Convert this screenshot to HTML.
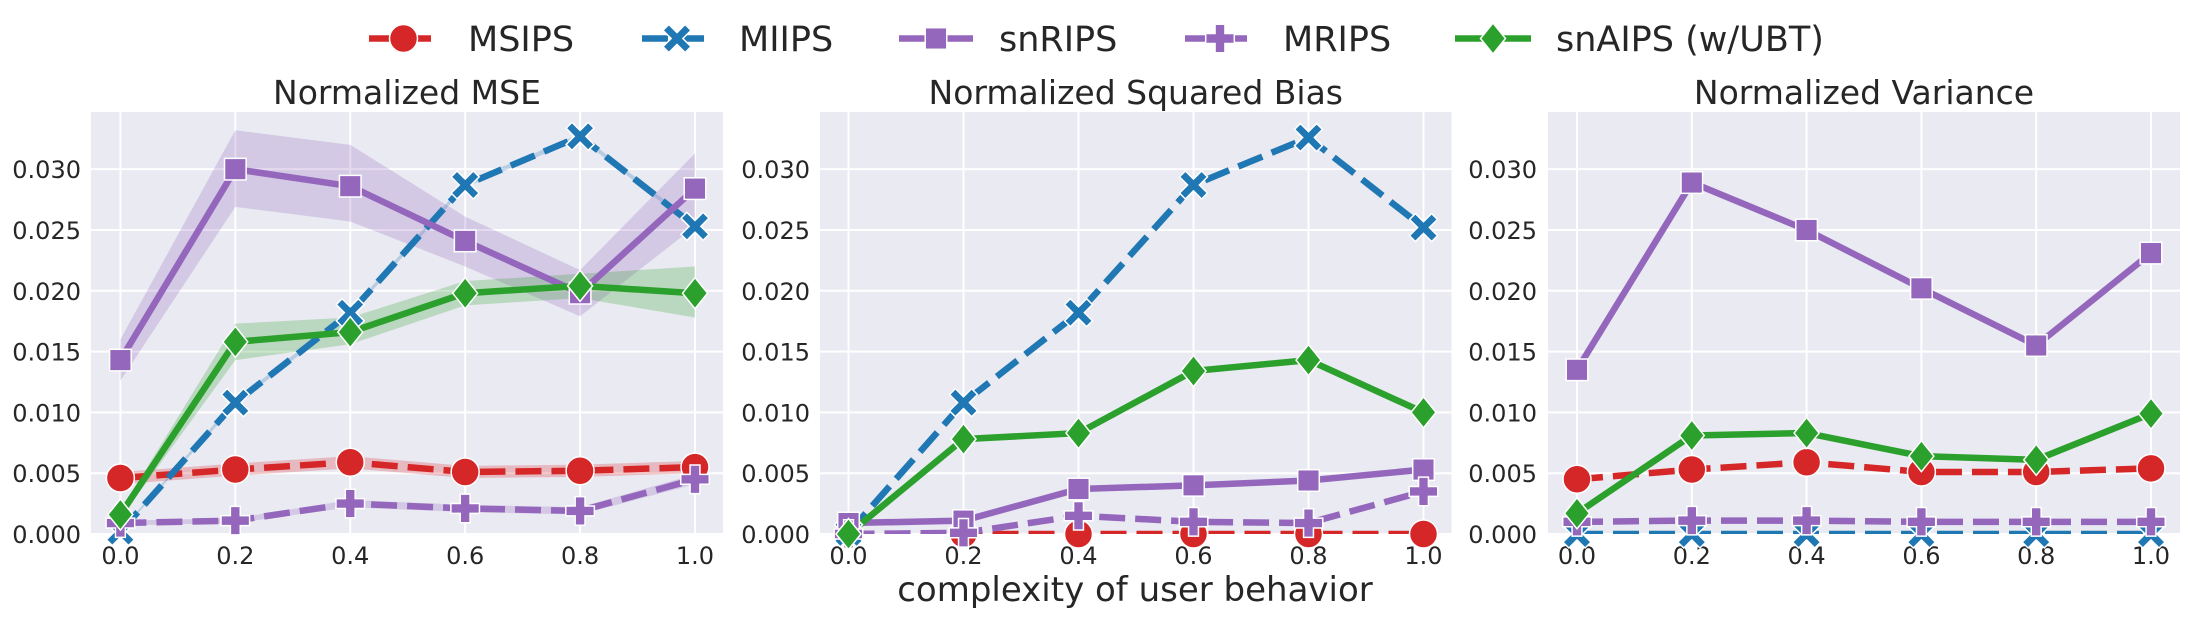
<!DOCTYPE html>
<html><head><meta charset="utf-8"><style>
html,body{margin:0;padding:0;background:#fff;}
svg{display:block;font-family:"DejaVu Sans","Liberation Sans",sans-serif;}
</style></head><body>
<svg id="chart" width="2190" height="617" viewBox="0 0 2190 617" xmlns="http://www.w3.org/2000/svg"></svg>
<script>
const xCats=[0.0,0.2,0.4,0.6,0.8,1.0];
const xTickLabels=["0.0","0.2","0.4","0.6","0.8","1.0"];
const yTicks=[0,0.005,0.010,0.015,0.020,0.025,0.030];
const yTickLabels=["0.000","0.005","0.010","0.015","0.020","0.025","0.030"];
const panelTitles=["Normalized MSE","Normalized Squared Bias","Normalized Variance"];
const seriesNames=["MSIPS","MIIPS","snRIPS","MRIPS","snAIPS (w/UBT)"];
// panel 1: MSE
const mseMSIPS=[0.0046,0.0053,0.0059,0.0051,0.0052,0.0055];
const mseMSIPSLo=[0.0041,0.0048,0.0054,0.0046,0.0047,0.0050];
const mseMSIPSHi=[0.0051,0.0058,0.0064,0.0056,0.0057,0.0060];
const mseMIIPS=[0.0002,0.0108,0.0182,0.0287,0.0327,0.0253];
const mseMIIPSLo=[0.0001,0.0106,0.0180,0.0285,0.0325,0.0251];
const mseMIIPSHi=[0.0003,0.0110,0.0184,0.0289,0.0329,0.0255];
const mseSnRIPS=[0.0143,0.0300,0.0286,0.0241,0.0198,0.0284];
const mseSnRIPSLo=[0.0126,0.0269,0.0257,0.0220,0.0179,0.0253];
const mseSnRIPSHi=[0.0160,0.0332,0.0320,0.0261,0.0217,0.0313];
const mseMRIPS=[0.0009,0.0011,0.0025,0.0021,0.0019,0.0045];
const mseMRIPSLo=[0.0007,0.0009,0.0022,0.0018,0.0016,0.0041];
const mseMRIPSHi=[0.0011,0.0013,0.0028,0.0024,0.0022,0.0049];
const mseSnAIPS=[0.0016,0.0158,0.0166,0.0198,0.0204,0.0198];
const mseSnAIPSLo=[0.0013,0.0143,0.0156,0.0188,0.0194,0.0178];
const mseSnAIPSHi=[0.0019,0.0173,0.0178,0.0208,0.0214,0.0220];
// panel 2: squared bias
const biasMSIPS=[0,0,0,0,0,0];
const biasMIIPS=[0.0001,0.0108,0.0182,0.0287,0.0326,0.0252];
const biasSnRIPS=[0.0009,0.0011,0.0037,0.0040,0.0044,0.0053];
const biasMRIPS=[0.0000,0.0001,0.0015,0.0010,0.0009,0.0035];
const biasSnAIPS=[0.0000,0.0078,0.0083,0.0134,0.0143,0.0100];
// panel 3: variance
const varMSIPS=[0.0045,0.0053,0.0059,0.0051,0.0051,0.0054];
const varMIIPS=[0,0,0,0,0,0];
const varSnRIPS=[0.0135,0.0289,0.0250,0.0202,0.0155,0.0231];
const varMRIPS=[0.0010,0.0011,0.0011,0.0010,0.0010,0.0010];
const varSnAIPS=[0.0017,0.0081,0.0083,0.0064,0.0061,0.0099];

const NS="http://www.w3.org/2000/svg";
const svg=document.getElementById('chart');
function mk(tag,attrs,parent){const e=document.createElementNS(NS,tag);for(const k in attrs)e.setAttribute(k,attrs[k]);(parent||svg).appendChild(e);return e;}

const colors={MSIPS:"#d62728",MIIPS:"#1f77b4",snRIPS:"#9467bd",MRIPS:"#9467bd","snAIPS (w/UBT)":"#2ca02c"};
const dashes={MSIPS:"26,10",MIIPS:"26,10",snRIPS:"none",MRIPS:"26,10","snAIPS (w/UBT)":"none"};
const markers={MSIPS:"circle",MIIPS:"x",snRIPS:"square",MRIPS:"plus","snAIPS (w/UBT)":"diamond"};
const markerSizes={MSIPS:28,MIIPS:28,snRIPS:24,MRIPS:26,"snAIPS (w/UBT)":25};

function drawMarker(g,type,cx,cy,color,s){
  let el;
  if(type==="circle") el=mk('circle',{cx:cx,cy:cy,r:s*0.5,fill:color,stroke:"#fff","stroke-width":1.5},g);
  else if(type==="square") el=mk('rect',{x:cx-s*0.45,y:cy-s*0.45,width:s*0.9,height:s*0.9,fill:color,stroke:"#fff","stroke-width":1.5},g);
  else if(type==="diamond") el=mk('polygon',{points:`${cx},${cy-s*0.62} ${cx+s*0.5},${cy} ${cx},${cy+s*0.62} ${cx-s*0.5},${cy}`,fill:color,stroke:"#fff","stroke-width":1.5},g);
  else if(type==="plus"){const a=s*0.55,w=s*0.19;el=mk('polygon',{points:`${cx-w},${cy-a} ${cx+w},${cy-a} ${cx+w},${cy-w} ${cx+a},${cy-w} ${cx+a},${cy+w} ${cx+w},${cy+w} ${cx+w},${cy+a} ${cx-w},${cy+a} ${cx-w},${cy+w} ${cx-a},${cy+w} ${cx-a},${cy-w} ${cx-w},${cy-w}`,fill:color,stroke:"#fff","stroke-width":1.5},g);}
  else if(type==="x"){const a=s*0.5,w=s*0.15;
    el=mk('path',{d:`M${cx-a},${cy-a+w*1.4} L${cx-a+w*1.4},${cy-a} L${cx},${cy-w*1.4} L${cx+a-w*1.4},${cy-a} L${cx+a},${cy-a+w*1.4} L${cx+w*1.4},${cy} L${cx+a},${cy+a-w*1.4} L${cx+a-w*1.4},${cy+a} L${cx},${cy+w*1.4} L${cx-a+w*1.4},${cy+a} L${cx-a},${cy+a-w*1.4} L${cx-w*1.4},${cy} Z`,fill:color,stroke:"#fff","stroke-width":1.5},g);}
  return el;
}

const panels=[
 {left:91,right:723,x0:120.4,x1:695,ticksRight:81,
  series:[["MSIPS",mseMSIPS,mseMSIPSLo,mseMSIPSHi],["MIIPS",mseMIIPS,mseMIIPSLo,mseMIIPSHi],["snRIPS",mseSnRIPS,mseSnRIPSLo,mseSnRIPSHi],["MRIPS",mseMRIPS,mseMRIPSLo,mseMRIPSHi],["snAIPS (w/UBT)",mseSnAIPS,mseSnAIPSLo,mseSnAIPSHi]]},
 {left:820,right:1451.5,x0:848.5,x1:1423.5,ticksRight:810,
  series:[["MSIPS",biasMSIPS],["MIIPS",biasMIIPS],["snRIPS",biasSnRIPS],["MRIPS",biasMRIPS],["snAIPS (w/UBT)",biasSnAIPS]]},
 {left:1548,right:2180,x0:1577,x1:2151,ticksRight:1537,
  series:[["MSIPS",varMSIPS],["MIIPS",varMIIPS],["snRIPS",varSnRIPS],["MRIPS",varMRIPS],["snAIPS (w/UBT)",varSnAIPS]]}
];
const plotTop=112,plotBottom=534,yMax=0.0347;
function yS(v){return plotBottom-(v/yMax)*(plotBottom-plotTop);}

panels.forEach((p,pi)=>{
  const xS=v=>p.x0+(v-xCats[0])/(xCats[xCats.length-1]-xCats[0])*(p.x1-p.x0);
  const g=mk('g',{});
  
  
  const bg=mk('rect',{x:p.left,y:plotTop,width:p.right-p.left,height:plotBottom-plotTop,fill:"#eaeaf2"},g);
  
  
  const clipId='clip'+pi;
  const cp=mk('clipPath',{id:clipId},g);mk('rect',{x:p.left,y:plotTop,width:p.right-p.left,height:plotBottom-plotTop},cp);
  xCats.forEach((v,i)=>{
    const gl=mk('line',{x1:xS(v),x2:xS(v),y1:plotTop,y2:plotBottom,stroke:"#fff","stroke-width":2},g);
    
    
    const t=mk('text',{x:xS(v),y:564,"font-size":24,fill:"#262626","text-anchor":"middle"},g);t.textContent=xTickLabels[i];
    
    
  });
  yTicks.forEach((v,i)=>{
    const gl=mk('line',{x1:p.left,x2:p.right,y1:yS(v),y2:yS(v),stroke:"#fff","stroke-width":2},g);
    
    
    const t=mk('text',{x:p.ticksRight,y:yS(v)+9,"font-size":24,fill:"#262626","text-anchor":"end"},g);t.textContent=yTickLabels[i];
    
    
  });
  const tt=mk('text',{x:(p.left+p.right)/2,y:104,"font-size":33,fill:"#262626","text-anchor":"middle"},g);tt.textContent=panelTitles[pi];
  
  
  const plot=mk('g',{"clip-path":`url(#${clipId})`},g);
  p.series.forEach(s=>{
    const [name,vals,lo,hi]=s;const c=colors[name];
    if(lo){
      let d="M"+xCats.map((x,i)=>xS(x)+","+yS(hi[i])).join(" L");
      d+=" L"+xCats.map((x,i)=>xS(x)+","+yS(lo[i])).reverse().join(" L")+" Z";
      const band=mk('path',{d:d,fill:c,"fill-opacity":0.25,stroke:"none"},plot);
      
      
    }
  });
  p.series.forEach(s=>{
    const [name,vals]=s;const c=colors[name];
    const ln=mk('polyline',{points:xCats.map((x,i)=>xS(x)+","+yS(vals[i])).join(" "),fill:"none",stroke:c,"stroke-width":6.5,"stroke-dasharray":dashes[name],"stroke-linejoin":"round"},plot);
    
    
  });
  p.series.forEach(s=>{
    const [name,vals]=s;const c=colors[name];
    xCats.forEach((x,i)=>{
      const m=drawMarker(g,markers[name],xS(x),yS(vals[i]),c,markerSizes[name]);
      
      
    });
  });
});

const xl=mk('text',{x:1135,y:601,"font-size":34,fill:"#262626","text-anchor":"middle"});xl.textContent="complexity of user behavior";



const legendX=[[369,438,468],[642,712,739],[899,973,999],[1185,1255,1283],[1455,1531,1556]];
seriesNames.forEach((name,i)=>{
  const [a,b,tx]=legendX[i];const c=colors[name];
  const g=mk('g',{});
  
  
  mk('line',{x1:a,x2:b,y1:38.5,y2:38.5,stroke:c,"stroke-width":6.5,"stroke-dasharray":dashes[name]},g);
  drawMarker(g,markers[name],(a+b)/2,38.5,c,markerSizes[name]);
  const t=mk('text',{x:tx,y:51,"font-size":35,fill:"#262626"},g);t.textContent=name;
});
</script>
</body></html>
